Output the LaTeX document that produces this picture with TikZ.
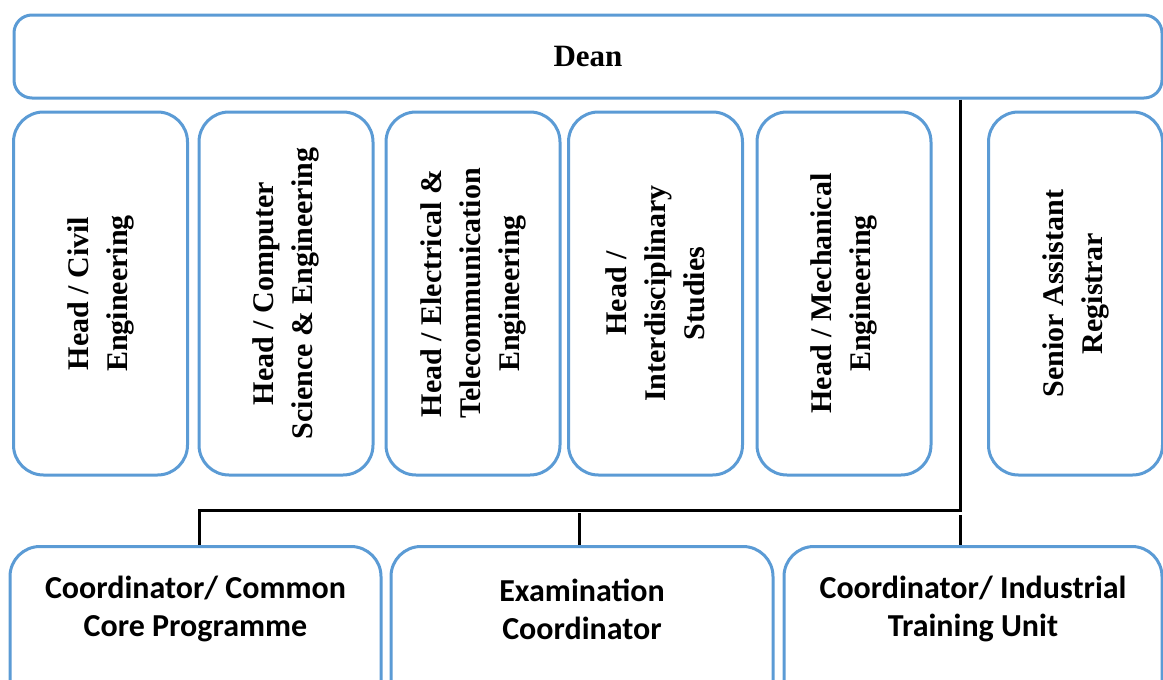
\documentclass[tikz,border=0pt]{standalone}
\usepackage{fontspec}
\setmainfont{Liberation Serif}
\newfontfamily\calfont{Carlito}
\definecolor{boxblue}{RGB}{91,155,213}
\tikzset{
  orgbox/.style={draw=boxblue, line width=3pt, rounded corners=30pt, inner sep=0pt, fill=white},
  vbox/.style={orgbox, rotate=90, minimum width=363pt, minimum height=174pt, align=center,
     font=\bfseries\fontsize{30}{39}\selectfont},
  bbox/.style={orgbox, anchor=north, minimum height=180pt},
  btext/.style={align=center, font=\calfont\bfseries\fontsize{32}{38}\selectfont, inner sep=0pt},
  conn/.style={draw=black, line width=3pt}
}
\begin{document}
\begin{tikzpicture}[x=1pt,y=-1pt]
\useasboundingbox (0,0) rectangle (1163,680);
\clip (0,0) rectangle (1163,680);
% Dean
\node[orgbox, rounded corners=18pt, minimum width=1148pt, minimum height=83pt,
      font=\bfseries\fontsize{31}{36}\selectfont] (dean) at (588,56.5) {Dean};
% Heads
\node[vbox] (civil) at (100.5,293.5) {Head / Civil\\Engineering};
\node[vbox] (cse) at (286,293.5) {Head / Computer\\Science \& Engineering};
\node[vbox] (ete) at (473,293.5) {Head / Electrical \&\\Telecommunication\\Engineering};
\node[vbox] (ids) at (655.5,293.5) {Head /\\Interdisciplinary\\Studies};
\node[vbox] (mech) at (844,293.5) {Head / Mechanical\\Engineering};
\node[vbox] (sar) at (1075.5,293.5) {Senior Assistant\\Registrar};
% Bottom boxes
\node[bbox, minimum width=371pt] (ccp) at (195.5,545) {};
\node[bbox, minimum width=382pt] (exam) at (582,545) {};
\node[bbox, minimum width=378pt] (itu) at (973,545) {};
\node[btext] (ccpt) at ([yshift=-64pt]ccp.north) {Coordinator/ Common\\Core Programme};
\node[btext] (examt) at ([yshift=-64pt]exam.north) {Examination\\Coordinator};
\node[btext] (itut) at ([yshift=-64pt]itu.north) {Coordinator/ Industrial\\Training Unit};
% Connectors
\coordinate (j1) at (960,510);
\coordinate (j2) at (199,545);
\coordinate (j3) at (579,513);
\coordinate (j4) at (960,515);
\draw[conn] (dean.south -| j1) -- (j1) -| (j2);
\draw[conn] (j3) -- (exam.north -| j3);
\draw[conn] (j4) -- (itu.north -| j4);
\end{tikzpicture}
\end{document}
